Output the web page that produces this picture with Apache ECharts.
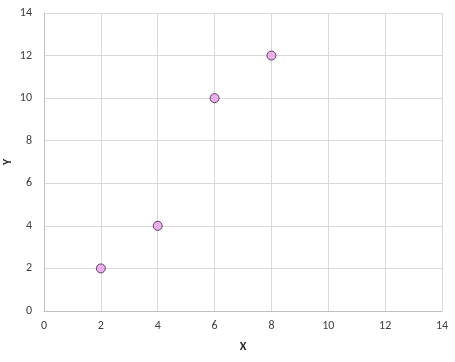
<!DOCTYPE html>
<html><head><meta charset="utf-8">
<script src="https://cdn.jsdelivr.net/npm/echarts@6/dist/echarts.min.js"></script>
<style>html,body{margin:0;padding:0;background:#fff}#c{width:455px;height:362px}</style>
</head><body><div id="c"></div>
<script>
const xValues = [2, 4, 6, 8];
const yValues = [2, 4, 10, 12];
const xName = 'X';
const yName = 'Y';

const chart = echarts.init(document.getElementById('c'), null, {renderer: 'canvas'});
const font = 'Calibri, Carlito, "Liberation Sans", "DejaVu Sans", sans-serif';
const gridLine = {show: true, lineStyle: {color: '#d9d9d9', width: 1}};
chart.setOption({
  animation: false,
  grid: {left: 44, right: 13, top: 13, bottom: 51, containLabel: false, outerBoundsMode: 'none'},
  xAxis: {
    type: 'value', min: 0, max: 14, interval: 2,
    name: xName, nameLocation: 'middle', nameGap: 30, nameMoveOverlap: false,
    nameTextStyle: {fontFamily: font, fontSize: 12, fontWeight: 'bold', color: '#262626'},
    axisLine: {show: true, lineStyle: {color: '#bfbfbf'}},
    axisTick: {show: false},
    axisLabel: {fontFamily: font, fontSize: 12, color: '#404040', margin: 9},
    splitLine: gridLine
  },
  yAxis: {
    type: 'value', min: 0, max: 14, interval: 2,
    name: yName, nameLocation: 'middle', nameGap: 30, nameMoveOverlap: false,
    nameTextStyle: {fontFamily: font, fontSize: 12, fontWeight: 'bold', color: '#262626'},
    axisLine: {show: true, lineStyle: {color: '#bfbfbf'}},
    axisTick: {show: false},
    axisLabel: {fontFamily: font, fontSize: 12, color: '#404040', margin: 12},
    splitLine: gridLine
  },
  series: [{
    type: 'scatter',
    data: xValues.map((x, i) => [x, yValues[i]]),
    symbol: 'circle', symbolSize: 9,
    itemStyle: {color: '#e8a0e8', borderColor: '#3c1a44', borderWidth: 1}
  }]
});
</script></body></html>
